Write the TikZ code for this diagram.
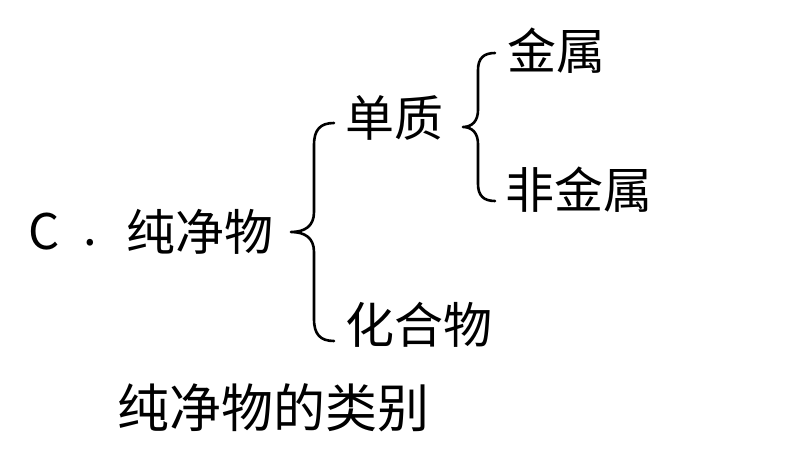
\documentclass[tikz,border=0pt]{standalone}
\usepackage{fontspec}
\setmainfont{Noto Sans CJK SC}
\begin{document}
\begin{tikzpicture}[x=1pt,y=-1pt,
  lbl/.style={anchor=west,inner sep=0pt,font=\fontsize{49}{49}\selectfont},
  captxt/.style={anchor=west,inner sep=0pt,font=\fontsize{52}{52}\selectfont},
  brace/.style={draw=black,line width=2.6pt,line cap=round,line join=round}]
\useasboundingbox[fill=white] (0,0) rectangle (794,462);
\node[lbl] (c) at (28,232) {C};
\node[lbl,anchor=center] (dot) at (90,243) {.};
\node[lbl] (pure) at (126,232) {纯净物};
\node[lbl] (elem) at (345,118) {单质};
\node[lbl] (comp) at (345,325) {化合物};
\node[lbl] (metal) at (507,51) {金属};
\node[lbl] (nonmetal) at (505,190) {非金属};
\node[captxt] (caption) at (117,408) {纯净物的类别};
% big brace
\coordinate (bt) at (334,123);
\coordinate (bm) at (291,232);
\coordinate (bb) at (334,341);
\draw[brace] (bt) .. controls (320,123) and (314,130) .. (314,145) -- (314,212)
  .. controls (314,226) and (305,232) .. (bm)
  .. controls (305,232) and (314,238) .. (314,252) -- (314,319)
  .. controls (314,334) and (320,341) .. (bb);
% small brace
\coordinate (st) at (495,53);
\coordinate (sm) at (463,127);
\coordinate (sb) at (495,201);
\draw[brace] (st) .. controls (484,53) and (478,58) .. (478,70) -- (478,110)
  .. controls (478,121) and (472,127) .. (sm)
  .. controls (472,127) and (478,133) .. (478,144) -- (478,184)
  .. controls (478,196) and (484,201) .. (sb);
\end{tikzpicture}
\end{document}
